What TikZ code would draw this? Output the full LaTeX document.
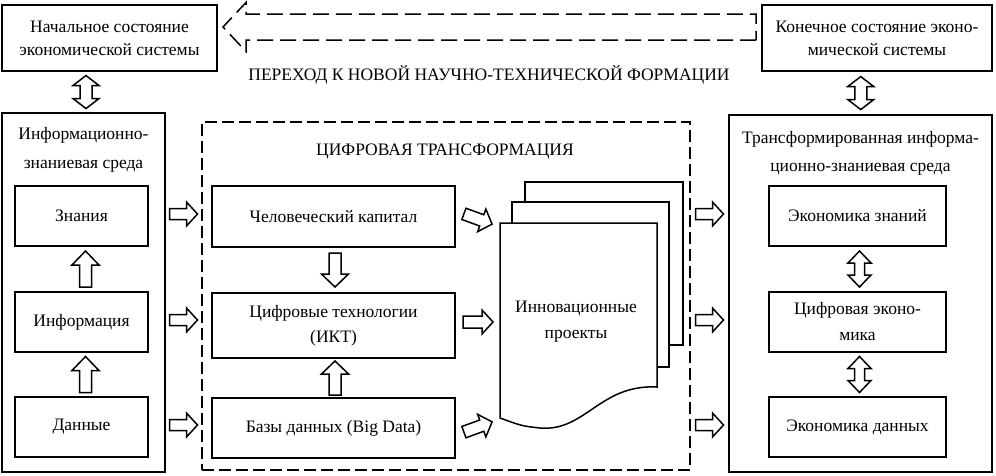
\documentclass[tikz,border=0pt]{standalone}
\usepackage{fontspec}
\setmainfont{Liberation Serif}
\usetikzlibrary{calc,positioning}
\tikzset{
  panel/.style={draw=black, line width=1.3pt, fill=white, inner sep=0pt},
  block/.style={draw=black, line width=1.5pt, fill=white, align=center, inner sep=2pt, font=\fontsize{17.5}{25}\selectfont},
  caption/.style={align=center, inner sep=0pt, font=\fontsize{17.5}{29}\selectfont},
  hollow/.style={draw=black, fill=white, line width=1.5pt, line join=miter},
  page/.style={draw=black, line width=1.5pt, fill=white},
  % length/head length/head width/shaft width
  pics/fatarrow/.style args={#1/#2/#3/#4}{code={
    \draw[hollow] ({-#1/2},{-#4/2}) -- ({#1/2-#2},{-#4/2}) -- ({#1/2-#2},{-#3/2}) -- ({#1/2},0)
      -- ({#1/2-#2},{#3/2}) -- ({#1/2-#2},{#4/2}) -- ({-#1/2},{#4/2}) -- cycle;
  }},
  pics/twinarrow/.style args={#1/#2/#3/#4}{code={
    \draw[hollow] ({-#1/2},0) -- ({-#1/2+#2},{-#3/2}) -- ({-#1/2+#2},{-#4/2}) -- ({#1/2-#2},{-#4/2})
      -- ({#1/2-#2},{-#3/2}) -- ({#1/2},0) -- ({#1/2-#2},{#3/2}) -- ({#1/2-#2},{#4/2})
      -- ({-#1/2+#2},{#4/2}) -- ({-#1/2+#2},{#3/2}) -- cycle;
  }}
}

\begin{document}
\begin{tikzpicture}[x=1pt, y=-1pt]
  \useasboundingbox (0,0) rectangle (996,475);
  % top row
  \node[block, minimum width=215pt, minimum height=66pt, font=\fontsize{17.5}{23}\selectfont] (start) at (109.5,38) {Начальное состояние\\экономической системы};
  \node[block, minimum width=230pt, minimum height=66pt, font=\fontsize{17.5}{23}\selectfont] (finish) at (877,38) {Конечное состояние эконо-\\мической системы};
  \pic[rotate=180, dash pattern=on 16pt off 7pt] (shift) at ($(start.east)!0.5!(finish.west)+(0,-11)$) {fatarrow={533/23/49/26}};
  \node[caption] (shiftlbl) at (489,75) {ПЕРЕХОД К НОВОЙ НАУЧНО-ТЕХНИЧЕСКОЙ ФОРМАЦИИ};

  % left panel
  \node[panel, minimum width=163pt, minimum height=359pt] (env) at (83.5,292.5) {};
  \node[caption] (envlbl) at (83.5,150) {Информационно-\\знаниевая среда};
  \node[block, minimum width=133pt, minimum height=60pt] (know) at (81.5,216) {Знания};
  \node[block, minimum width=133pt, minimum height=60pt] (info) at (81.5,322) {Информация};
  \node[block, minimum width=133pt, minimum height=60pt] (data) at (81.5,427) {Данные};

  % digital transformation
  \node[panel, dashed, dash pattern=on 12pt off 5pt, minimum width=488pt, minimum height=348pt] (digit) at (446,296) {};
  \node[caption] (digitlbl) at (445,152) {ЦИФРОВАЯ ТРАНСФОРМАЦИЯ};
  \node[block, minimum width=243pt, minimum height=61pt] (human) at (333.5,216.5) {Человеческий капитал};
  \node[block, minimum width=243pt, minimum height=65pt] (ict) at (333.5,325.5) {Цифровые технологии\\(ИКТ)};
  \node[block, minimum width=243pt, minimum height=60pt] (bigdata) at (333.5,428) {Базы данных (Big Data)};

  % stack of projects
  \draw[page] (525,182) rectangle (683,345);
  \draw[page] (512,202) rectangle (669,367);
  \draw[page] (500,223) -- (657,223) -- (657,387)
    .. controls (600,384) and (585,432) .. (540,428)
    .. controls (522,426) .. (500,418) -- cycle;
  \node[caption, font=\fontsize{17.5}{26}\selectfont] (proj) at (576,322) {Инновационные\\проекты};

  % right panel
  \node[panel, minimum width=263pt, minimum height=357pt] (newenv) at (860.5,293.5) {};
  \node[caption, font=\fontsize{17.5}{28}\selectfont] (newenvlbl) at (860.5,153) {Трансформированная информа-\\ционно-знаниевая среда};
  \node[block, minimum width=177pt, minimum height=60pt] (ekn) at (857.5,216) {Экономика знаний};
  \node[block, minimum width=177pt, minimum height=60pt, font=\fontsize{17.5}{26}\selectfont] (edig) at (857.5,322) {Цифровая эконо-\\мика};
  \node[block, minimum width=177pt, minimum height=60pt] (edat) at (857.5,427) {Экономика данных};

  % gaps between the columns
  \path (env.east) -- (digit.west) coordinate[pos=0.5] (gapL);
  \path (digit.east) -- (newenv.west) coordinate[pos=0.5] (gapR);

  % block arrows
  \pic[rotate=90] at ($(start.south)!0.5!(env.north)+(-10.5,0)$) {twinarrow={33/10/26/12}};
  \pic[rotate=90] at ($(finish.south)!0.5!(newenv.north)+(-8,0)$) {twinarrow={33/10/26/12}};
  \pic[rotate=90] at ($(data.north)!0.5!(info.south)+(4,0)$) {fatarrow={36/14/27/12}};
  \pic[rotate=90] at ($(info.north)!0.5!(know.south)+(4,0)$) {fatarrow={36/14/27/12}};
  \foreach \row in {know, info, data}{
    \pic at ($(gapL |- \row)+(0,-2)$) {fatarrow={28/11/24/11}};
    \pic at ($(gapR |- \row)+(0,-2)$) {fatarrow={28/11/24/11}};
  }
  \pic[rotate=-90] at ($(human.south)!0.5!(ict.north)+(1.5,0)$) {fatarrow={34/13/27/12}};
  \pic[rotate=90] at ($(bigdata.north)!0.5!(ict.south)+(1.5,0)$) {fatarrow={34/13/27/12}};
  \pic[rotate=-20] at (478,219) {fatarrow={30/11/24/12}};
  \pic at (478,322) {fatarrow={30/11/24/12}};
  \pic[rotate=20] at (478,427) {fatarrow={30/11/24/12}};
  \pic[rotate=90] at ($(ekn.south)!0.5!(edig.north)+(2,0)$) {twinarrow={36/12/23/10}};
  \pic[rotate=90] at ($(edig.south)!0.5!(edat.north)+(2,0)$) {twinarrow={36/12/23/10}};
\end{tikzpicture}
\end{document}
